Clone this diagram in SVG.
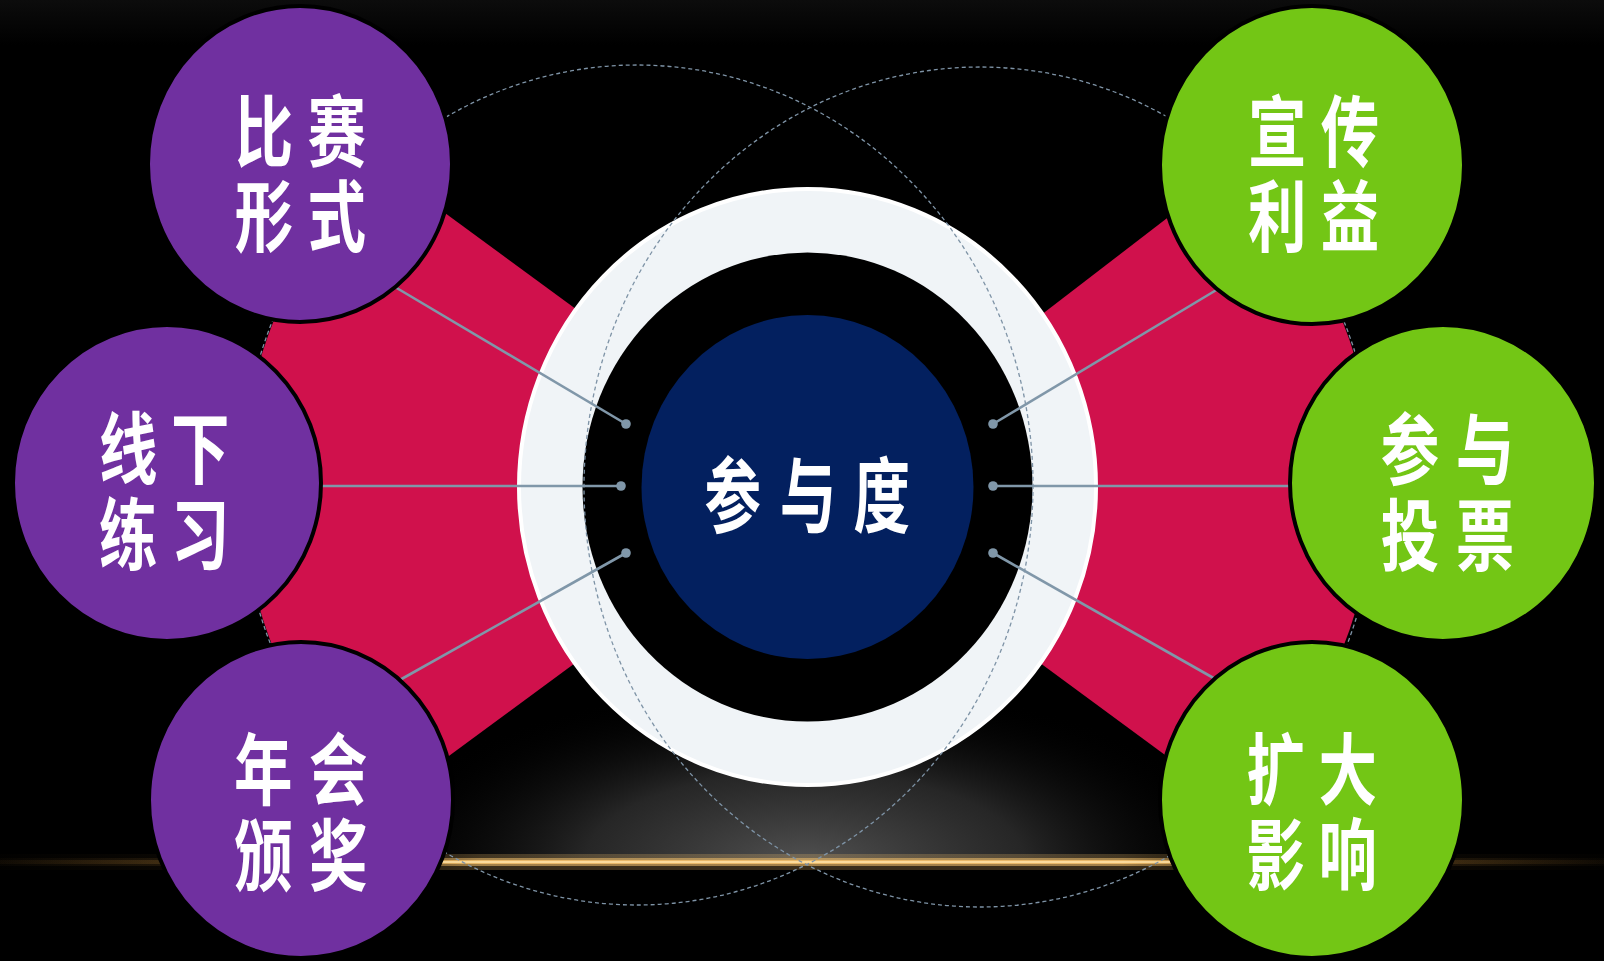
<svg xmlns="http://www.w3.org/2000/svg" width="1604" height="961" viewBox="0 0 1604 961">
<defs>
<style>
.node-p{fill:#7030A0;stroke:#000;stroke-width:4}
.node-g{fill:#73C615;stroke:#000;stroke-width:4}
.red{fill:#D0114C}
.dash{fill:none;stroke:#7E93A6;stroke-width:1.3;stroke-dasharray:4 3}
.conn{stroke:#8097A9;stroke-width:2.6;fill:none}
.dot{fill:#8097A9}
.lbl{font-family:"Noto Sans CJK SC","Noto Sans",sans-serif;font-weight:700;font-size:78px;fill:#fff;text-anchor:middle;dominant-baseline:central}
.ctr{font-family:"Noto Sans CJK SC","Noto Sans",sans-serif;font-weight:700;font-size:82px;fill:#fff;text-anchor:middle;dominant-baseline:central}
</style>
<linearGradient id="topg" x1="0" y1="0" x2="0" y2="1">
<stop offset="0" stop-color="#0c0c0c"/>
<stop offset="1" stop-color="#000"/>
</linearGradient>
<radialGradient id="glow">
<stop offset="0" stop-color="#555" stop-opacity="0.95"/>
<stop offset="0.5" stop-color="#333" stop-opacity="0.75"/>
<stop offset="1" stop-color="#000" stop-opacity="0"/>
</radialGradient>
<linearGradient id="goldh" x1="0" y1="0" x2="1604" y2="0" gradientUnits="userSpaceOnUse">
<stop offset="0" stop-color="#B07A30" stop-opacity="0.05"/>
<stop offset="0.2" stop-color="#C8903C" stop-opacity="0.35"/>
<stop offset="0.3" stop-color="#E8B868" stop-opacity="1"/>
<stop offset="0.7" stop-color="#E8B868" stop-opacity="1"/>
<stop offset="0.8" stop-color="#C8903C" stop-opacity="0.35"/>
<stop offset="1" stop-color="#B07A30" stop-opacity="0.05"/>
</linearGradient>
<clipPath id="aboveLine"><rect x="0" y="600" width="1604" height="262"/></clipPath>
</defs>

<g id="background">
<rect x="0" y="0" width="1604" height="961" fill="#000"/>
<rect x="0" y="0" width="1604" height="45" fill="url(#topg)"/>
<ellipse cx="805" cy="862" rx="440" ry="180" fill="url(#glow)" clip-path="url(#aboveLine)"/>
<rect x="0" y="854" width="1604" height="16" fill="url(#goldh)" opacity="0.25"/>
<rect x="0" y="858" width="1604" height="8" fill="url(#goldh)" opacity="0.6"/>
<rect x="0" y="860" width="1604" height="4" fill="url(#goldh)"/>
<rect x="440" y="861" width="730" height="2" fill="#FFE3A8" opacity="0.8"/>
</g>

<g id="wedges">
<path class="red" d="M700 400 L400 180 L274 320 A396 420 0 0 0 274 650 L400 792 L700 571 Z"/>
<path class="red" d="M915 412 L1214 182 L1342 320 A396 420 0 0 1 1342 650 L1214 791 L915 571 Z"/>
</g>

<g id="center">
<ellipse cx="807.5" cy="487" rx="288.5" ry="298" fill="#F0F4F7" stroke="#fff" stroke-width="4"/>
<ellipse cx="807.5" cy="487" rx="225" ry="234.5" fill="#000"/>
<ellipse cx="807.5" cy="487" rx="166" ry="172" fill="#03205F"/>
<text class="ctr" transform="translate(0,490) scale(0.69,1)" x="1062 1171 1278" y="0">参与度</text>
</g>

<g id="dashed-rings">
<ellipse class="dash" cx="637" cy="485" rx="396" ry="420"/>
<ellipse class="dash" cx="980" cy="487" rx="396" ry="420"/>
</g>

<g id="connectors">
<line class="conn" x1="395" y1="287" x2="626" y2="424"/>
<circle class="dot" cx="626" cy="424" r="4.8"/>
<line class="conn" x1="315" y1="486" x2="621" y2="486"/>
<circle class="dot" cx="621" cy="486" r="4.8"/>
<line class="conn" x1="398" y1="681" x2="626" y2="553"/>
<circle class="dot" cx="626" cy="553" r="4.8"/>
<line class="conn" x1="1218" y1="289" x2="993" y2="424"/>
<circle class="dot" cx="993" cy="424" r="4.8"/>
<line class="conn" x1="1296" y1="486" x2="993" y2="486"/>
<circle class="dot" cx="993" cy="486" r="4.8"/>
<line class="conn" x1="1217" y1="680" x2="993" y2="553"/>
<circle class="dot" cx="993" cy="553" r="4.8"/>
</g>

<g id="node-bisai">
<ellipse class="node-p" cx="300" cy="164" rx="152" ry="158"/>
<text class="lbl" transform="scale(0.75,1)"><tspan x="352 449" y="127">比赛</tspan><tspan x="352 449" y="212">形式</tspan></text>
</g>

<g id="node-xianxia">
<ellipse class="node-p" cx="167" cy="483" rx="154" ry="158"/>
<text class="lbl" transform="scale(0.75,1)"><tspan x="171 267" y="444">线下</tspan><tspan x="171 267" y="530">练习</tspan></text>
</g>

<g id="node-nianhui">
<ellipse class="node-p" cx="301" cy="800" rx="152" ry="158"/>
<text class="lbl" transform="scale(0.75,1)"><tspan x="351 451" y="765">年会</tspan><tspan x="351 451" y="851">颁奖</tspan></text>
</g>

<g id="node-xuanchuan">
<ellipse class="node-g" cx="1312" cy="165" rx="152" ry="159"/>
<text class="lbl" transform="scale(0.75,1)"><tspan x="1703 1800" y="127">宣传</tspan><tspan x="1703 1800" y="212">利益</tspan></text>
</g>

<g id="node-toupiao">
<ellipse class="node-g" cx="1443" cy="483" rx="153" ry="158"/>
<text class="lbl" transform="scale(0.75,1)"><tspan x="1880 1980" y="445">参与</tspan><tspan x="1880 1980" y="531">投票</tspan></text>
</g>

<g id="node-kuoda">
<ellipse class="node-g" cx="1312" cy="800" rx="152" ry="158"/>
<text class="lbl" transform="scale(0.75,1)"><tspan x="1701 1797" y="765">扩大</tspan><tspan x="1701 1797" y="850">影响</tspan></text>
</g>
</svg>
